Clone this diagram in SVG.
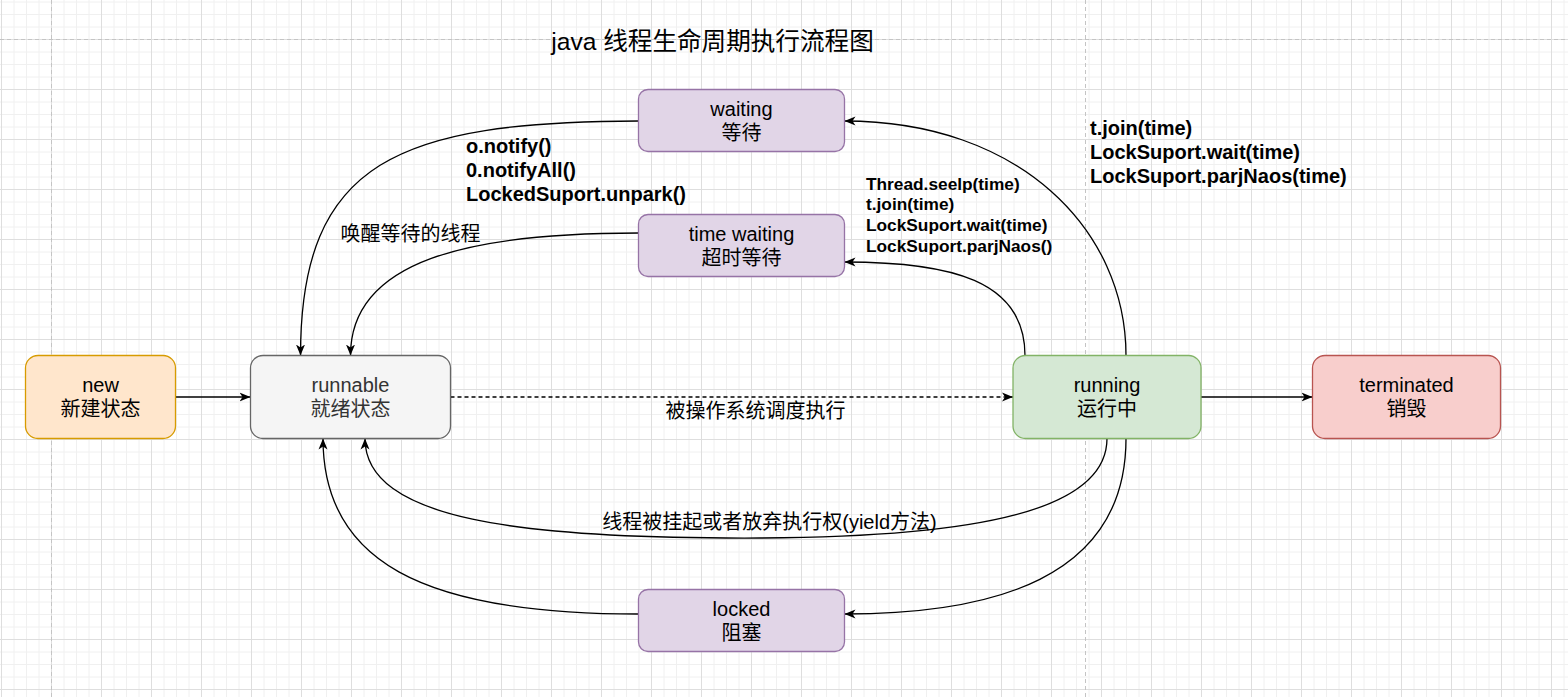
<svg xmlns="http://www.w3.org/2000/svg" width="1568" height="697" viewBox="0 0 1568 697">
<style>
.n{font-family:"Liberation Sans","Noto Sans CJK SC",sans-serif;font-size:20px;text-anchor:middle;fill:#000}
.lb{font-family:"Liberation Sans","Noto Sans CJK SC",sans-serif;font-size:20px;font-weight:bold;fill:#000}
.ls{font-family:"Liberation Sans","Noto Sans CJK SC",sans-serif;font-size:17.3px;font-weight:bold;fill:#000}
.lc{font-family:"Liberation Sans","Noto Sans CJK SC",sans-serif;font-size:20px;fill:#000;text-anchor:middle}
.e{fill:none;stroke:#000;stroke-width:1.3;marker-end:url(#arr)}
.g{fill:none;stroke:#c4c4c4;stroke-width:1;stroke-dasharray:4 3}
.p{fill:#e1d5e7;stroke:#9673a6;stroke-width:1.3}
</style>
<defs>
<pattern id="grid" patternUnits="userSpaceOnUse" x="1" y="39" width="50" height="50">
<path d="M13 0V50M25.5 0V50M38 0V50M0 13H50M0 25.5H50M0 38H50" stroke="#f0f0f0" stroke-width="1" fill="none"/>
<path d="M0.5 0V50M0 0.5H50" stroke="#dedede" stroke-width="1" fill="none"/>
</pattern>
<marker id="arr" markerUnits="userSpaceOnUse" markerWidth="13" markerHeight="12" refX="11" refY="6" orient="auto">
<path d="M0,1.5 L11,6 L0,10.5 L3,6 Z" fill="#000"/>
</marker>
</defs>
<rect width="1568" height="697" fill="#ffffff"/>
<rect width="1568" height="697" fill="url(#grid)"/>
<g id="guides">
<path class="g" d="M0 39.5H1568"/>
<path class="g" d="M51.5 0V697"/>
<path class="g" d="M1085.5 0V697"/>
</g>
<text x="712.5" y="49.5" style="font-family:'Liberation Sans','Noto Sans CJK SC',sans-serif;font-size:24.6px;text-anchor:middle;fill:#000">java 线程生命周期执行流程图</text>
<g id="connectors">
<path class="e" d="M175.5 397H250.5"/>
<path class="e" d="M450.5 397H1013" stroke-dasharray="4 3"/>
<path class="e" d="M1201 397H1312.5"/>
<path class="e" d="M1126 355.5C1126 230 1020 121 844.5 121"/>
<path class="e" d="M1025 355.5C1025 280 950 262 844.5 262"/>
<path class="e" d="M638.5 121C400 122 300.5 160 300.5 355.5"/>
<path class="e" d="M638.5 233C470 233 350.5 260 350.5 355.5"/>
<path class="e" d="M1107 438.5C1107 510 980 537 760 538C520 539 365 520 365 438.5"/>
<path class="e" d="M1126 438.5C1126 580 990 614 844.5 614"/>
<path class="e" d="M638.5 614C420 614 323 560 323 438.5"/>
</g>
<g id="labels">
<text class="lb" x="466" y="153">o.notify()</text>
<text class="lb" x="466" y="177">0.notifyAll()</text>
<text class="lb" x="466" y="201">LockedSuport.unpark()</text>
<text class="lc" x="410.5" y="241">唤醒等待的线程</text>
<text class="ls" x="866" y="189.5">Thread.seelp(time)</text>
<text class="ls" x="866" y="210.2">t.join(time)</text>
<text class="ls" x="866" y="230.9">LockSuport.wait(time)</text>
<text class="ls" x="866" y="251.6">LockSuport.parjNaos()</text>
<text class="lb" x="1090" y="135">t.join(time)</text>
<text class="lb" x="1090" y="159">LockSuport.wait(time)</text>
<text class="lb" x="1090" y="183">LockSuport.parjNaos(time)</text>
<text class="lc" x="755.5" y="418">被操作系统调度执行</text>
<text class="lc" x="769.5" y="529">线程被挂起或者放弃执行权(yield方法)</text>
</g>
<g id="new">
<rect x="25.5" y="355.5" width="150" height="83" rx="12.5" fill="#ffe6cc" stroke="#d79b00" stroke-width="1.3"/>
<text class="n" x="100.5" y="392">new</text>
<text class="n" x="100.5" y="416">新建状态</text>
</g>
<g id="runnable">
<rect x="250.5" y="355.5" width="200" height="83" rx="12.5" fill="#f5f5f5" stroke="#666666" stroke-width="1.3"/>
<text class="n" x="350.5" y="392" style="fill:#333333">runnable</text>
<text class="n" x="350.5" y="416" style="fill:#333333">就绪状态</text>
</g>
<g id="running">
<rect x="1013" y="355.5" width="188" height="83" rx="12.5" fill="#d5e8d4" stroke="#82b366" stroke-width="1.3"/>
<text class="n" x="1107" y="392">running</text>
<text class="n" x="1107" y="416">运行中</text>
</g>
<g id="terminated">
<rect x="1312.5" y="355.5" width="188" height="83" rx="12.5" fill="#f8cecc" stroke="#b85450" stroke-width="1.3"/>
<text class="n" x="1406.5" y="392">terminated</text>
<text class="n" x="1406.5" y="416">销毁</text>
</g>
<g id="waiting">
<rect class="p" x="638.5" y="89.5" width="206" height="62" rx="9.5"/>
<text class="n" x="741.5" y="116">waiting</text>
<text class="n" x="741.5" y="140">等待</text>
</g>
<g id="time-waiting">
<rect class="p" x="638.5" y="214.5" width="206" height="62" rx="9.5"/>
<text class="n" x="741.5" y="241">time waiting</text>
<text class="n" x="741.5" y="265">超时等待</text>
</g>
<g id="locked">
<rect class="p" x="638.5" y="589.5" width="206" height="62" rx="9.5"/>
<text class="n" x="741.5" y="616">locked</text>
<text class="n" x="741.5" y="640">阻塞</text>
</g>
</svg>
